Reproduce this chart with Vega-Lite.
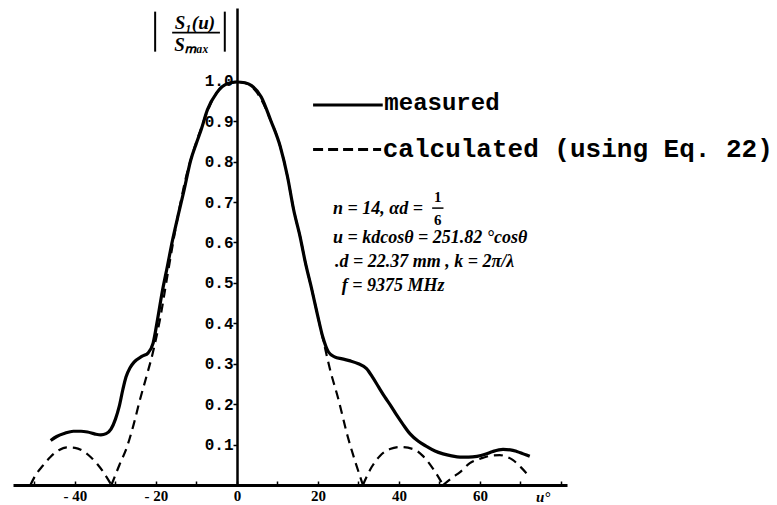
{
  "$schema": "https://vega.github.io/schema/vega-lite/v6.json",
  "width": 554,
  "height": 477,
  "autosize": {"type": "none"},
  "padding": {"left": 13, "top": 8, "right": 210, "bottom": 20},
  "background": "white",
  "config": {
    "view": {"stroke": null},
    "axis": {"grid": false, "domainColor": "black", "tickColor": "black", "labelColor": "black", "title": null}
  },
  "datasets": {
    "measured": [
      {"u": -46.0, "v": 0.110}, {"u": -44.5, "v": 0.120}, {"u": -42.5, "v": 0.128}, {"u": -40.4, "v": 0.133},
      {"u": -38.5, "v": 0.133}, {"u": -36.9, "v": 0.131}, {"u": -35.0, "v": 0.126}, {"u": -33.6, "v": 0.124},
      {"u": -32.3, "v": 0.127}, {"u": -31.1, "v": 0.138}, {"u": -30.0, "v": 0.163}, {"u": -29.1, "v": 0.193},
      {"u": -28.2, "v": 0.235}, {"u": -27.4, "v": 0.267}, {"u": -26.4, "v": 0.290}, {"u": -25.4, "v": 0.304},
      {"u": -23.5, "v": 0.318}, {"u": -21.9, "v": 0.327}, {"u": -20.7, "v": 0.351}, {"u": -19.6, "v": 0.410},
      {"u": -18.5, "v": 0.475}, {"u": -17.2, "v": 0.540}, {"u": -15.9, "v": 0.606}, {"u": -14.5, "v": 0.668},
      {"u": -13.2, "v": 0.723}, {"u": -11.4, "v": 0.804}, {"u": -10.0, "v": 0.846}, {"u": -8.8, "v": 0.880},
      {"u": -7.3, "v": 0.928}, {"u": -5.0, "v": 0.970}, {"u": -2.3, "v": 0.993}, {"u": 0.0, "v": 0.997},
      {"u": 2.0, "v": 0.995}, {"u": 3.6, "v": 0.988}, {"u": 6.0, "v": 0.960}, {"u": 8.3, "v": 0.903},
      {"u": 10.7, "v": 0.837}, {"u": 12.5, "v": 0.762}, {"u": 14.0, "v": 0.681}, {"u": 15.6, "v": 0.614},
      {"u": 16.9, "v": 0.550}, {"u": 18.5, "v": 0.483}, {"u": 20.0, "v": 0.416}, {"u": 21.2, "v": 0.366},
      {"u": 22.6, "v": 0.329}, {"u": 24.1, "v": 0.317}, {"u": 26.0, "v": 0.312}, {"u": 28.0, "v": 0.307},
      {"u": 30.0, "v": 0.300}, {"u": 32.0, "v": 0.288}, {"u": 33.6, "v": 0.265}, {"u": 35.0, "v": 0.242},
      {"u": 36.5, "v": 0.218}, {"u": 38.0, "v": 0.196}, {"u": 39.5, "v": 0.172}, {"u": 41.0, "v": 0.150},
      {"u": 42.7, "v": 0.127}, {"u": 44.8, "v": 0.108}, {"u": 46.9, "v": 0.095}, {"u": 48.9, "v": 0.084},
      {"u": 50.9, "v": 0.077}, {"u": 53.0, "v": 0.072}, {"u": 55.1, "v": 0.069}, {"u": 57.2, "v": 0.069},
      {"u": 59.3, "v": 0.071}, {"u": 61.3, "v": 0.076}, {"u": 63.2, "v": 0.083}, {"u": 65.7, "v": 0.088},
      {"u": 67.5, "v": 0.087}, {"u": 69.1, "v": 0.083}, {"u": 70.7, "v": 0.077}, {"u": 72.3, "v": 0.071}
    ],
    "calculated": [
      {"seg": "A", "u": -51.0, "v": 0.0}, {"seg": "A", "u": -49.5, "v": 0.028}, {"seg": "A", "u": -48.0, "v": 0.047},
      {"seg": "A", "u": -46.0, "v": 0.070}, {"seg": "A", "u": -44.0, "v": 0.086}, {"seg": "A", "u": -42.0, "v": 0.093},
      {"seg": "A", "u": -40.0, "v": 0.092}, {"seg": "A", "u": -38.0, "v": 0.084}, {"seg": "A", "u": -36.0, "v": 0.068},
      {"seg": "A", "u": -34.5, "v": 0.052}, {"seg": "A", "u": -33.0, "v": 0.032}, {"seg": "A", "u": -31.0, "v": 0.0},
      {"seg": "B", "u": -31.0, "v": 0.0}, {"seg": "B", "u": -29.0, "v": 0.050}, {"seg": "B", "u": -27.2, "v": 0.093},
      {"seg": "B", "u": -25.5, "v": 0.150}, {"seg": "B", "u": -24.0, "v": 0.209}, {"seg": "B", "u": -22.3, "v": 0.270},
      {"seg": "B", "u": -20.7, "v": 0.330}, {"seg": "B", "u": -19.0, "v": 0.410}, {"seg": "B", "u": -17.0, "v": 0.528},
      {"seg": "B", "u": -15.5, "v": 0.615}, {"seg": "B", "u": -14.0, "v": 0.695}, {"seg": "B", "u": -12.5, "v": 0.765},
      {"seg": "B", "u": -11.0, "v": 0.818}, {"seg": "B", "u": -9.0, "v": 0.878}, {"seg": "B", "u": -7.0, "v": 0.932},
      {"seg": "B", "u": -5.0, "v": 0.970}, {"seg": "B", "u": -2.5, "v": 0.993}, {"seg": "B", "u": 0.0, "v": 0.997},
      {"seg": "B", "u": 2.5, "v": 0.993}, {"seg": "B", "u": 5.0, "v": 0.970}, {"seg": "B", "u": 8.3, "v": 0.903},
      {"seg": "B", "u": 10.7, "v": 0.837}, {"seg": "B", "u": 12.5, "v": 0.762}, {"seg": "B", "u": 14.0, "v": 0.681},
      {"seg": "B", "u": 15.6, "v": 0.614}, {"seg": "B", "u": 16.9, "v": 0.550}, {"seg": "B", "u": 18.5, "v": 0.483},
      {"seg": "B", "u": 20.0, "v": 0.416}, {"seg": "B", "u": 21.5, "v": 0.350}, {"seg": "B", "u": 23.0, "v": 0.285},
      {"seg": "B", "u": 25.0, "v": 0.214}, {"seg": "B", "u": 27.4, "v": 0.118}, {"seg": "B", "u": 29.3, "v": 0.055},
      {"seg": "B", "u": 31.1, "v": 0.0},
      {"seg": "C", "u": 31.1, "v": 0.0}, {"seg": "C", "u": 33.3, "v": 0.045}, {"seg": "C", "u": 35.3, "v": 0.072},
      {"seg": "C", "u": 37.8, "v": 0.089}, {"seg": "C", "u": 40.2, "v": 0.094}, {"seg": "C", "u": 43.5, "v": 0.089},
      {"seg": "C", "u": 45.9, "v": 0.072}, {"seg": "C", "u": 48.1, "v": 0.045}, {"seg": "C", "u": 50.9, "v": 0.0},
      {"seg": "D", "u": 50.9, "v": 0.0}, {"seg": "D", "u": 53.0, "v": 0.017}, {"seg": "D", "u": 55.1, "v": 0.032},
      {"seg": "D", "u": 57.5, "v": 0.054}, {"seg": "D", "u": 60.7, "v": 0.067}, {"seg": "D", "u": 63.0, "v": 0.073},
      {"seg": "D", "u": 64.9, "v": 0.074}, {"seg": "D", "u": 66.5, "v": 0.070}, {"seg": "D", "u": 68.1, "v": 0.062},
      {"seg": "D", "u": 70.2, "v": 0.043}, {"seg": "D", "u": 72.3, "v": 0.020}
    ]
  },
  "encoding": {
    "x": {"field": "u", "type": "quantitative"},
    "y": {"field": "v", "type": "quantitative"}
  },
  "layer": [
    {
      "data": {"name": "measured"},
      "mark": {"type": "line", "interpolate": "monotone", "color": "black", "strokeWidth": 3.2},
      "encoding": {
        "x": {"field": "u", "type": "quantitative",
          "scale": {"domain": [-55.3, 81.5], "nice": false, "zero": false},
          "axis": {"values": [-50, -40, -30, -20, -10, 0, 10, 20, 30, 40, 50, 60, 70, 80],
            "labelExpr": "(datum.value % 20 == 0 && datum.value >= -40 && datum.value <= 60) ? (datum.value < 0 ? '- ' + abs(datum.value) : '' + datum.value) : ''",
            "domainWidth": 2.8, "tickSize": -4, "tickWidth": 1.5, "labelFont": "Liberation Serif", "labelFontWeight": "bold",
            "labelFontSize": 15, "labelPadding": 7, "labelFlush": false}},
        "y": {"field": "v", "type": "quantitative",
          "scale": {"domain": [0, 1.18], "nice": false},
          "axis": {"orient": "left", "offset": -224, "values": [0.1, 0.2, 0.3, 0.4, 0.5, 0.6, 0.7, 0.8, 0.9, 1.0],
            "format": ".1f", "domainWidth": 2.5, "tickSize": 4, "tickWidth": 1.5, "labelFont": "Liberation Mono",
            "labelFontWeight": "bold", "labelFontSize": 16, "labelPadding": 0}}
      }
    },
    {
      "data": {"name": "calculated"},
      "mark": {"type": "line", "interpolate": "monotone", "color": "black", "strokeWidth": 2.2, "strokeDash": [9, 6]},
      "encoding": {"detail": {"field": "seg"}}
    },
    {
      "data": {"values": [{"u": 18.8, "u2": 36.0, "v": 0.94}]},
      "mark": {"type": "rule", "color": "black", "strokeWidth": 3.2},
      "encoding": {"x2": {"field": "u2"}}
    },
    {
      "data": {"values": [{"u": 18.8, "u2": 35.6, "v": 0.83}]},
      "mark": {"type": "rule", "color": "black", "strokeWidth": 3.2, "strokeDash": [10, 5]},
      "encoding": {"x2": {"field": "u2"}}
    },
    {
      "data": {"values": [{"u": 36.4, "v": 0.945, "label": "measured"}]},
      "mark": {"type": "text", "align": "left", "baseline": "middle", "font": "Liberation Mono", "fontWeight": "bold", "fontSize": 24, "color": "black"},
      "encoding": {"text": {"field": "label"}}
    },
    {
      "data": {"values": [{"u": 36.0, "v": 0.83, "label": "calculated (using Eq. 22)"}]},
      "mark": {"type": "text", "align": "left", "baseline": "middle", "font": "Liberation Mono", "fontWeight": "bold", "fontSize": 26, "color": "black"},
      "encoding": {"text": {"field": "label"}}
    },
    {
      "data": {"values": [
        {"u": 23.7, "v": 0.683, "label": "n = 14, αd ="},
        {"u": 23.7, "v": 0.612, "label": "u = kdcosθ = 251.82 °cosθ"},
        {"u": 24.2, "v": 0.552, "label": ".d = 22.37 mm , k = 2π/λ"},
        {"u": 25.9, "v": 0.492, "label": "f = 9375 MHz"}
      ]},
      "mark": {"type": "text", "align": "left", "baseline": "middle", "font": "Liberation Serif", "fontWeight": "bold", "fontStyle": "italic", "fontSize": 18, "color": "black"},
      "encoding": {"text": {"field": "label"}}
    },
    {
      "data": {"values": [
        {"u": 49.6, "v": 0.713, "label": "1"},
        {"u": 49.6, "v": 0.656, "label": "6"}
      ]},
      "mark": {"type": "text", "align": "center", "baseline": "middle", "font": "Liberation Serif", "fontWeight": "bold", "fontSize": 15, "color": "black"},
      "encoding": {"text": {"field": "label"}}
    },
    {
      "data": {"values": [{"u": 48.2, "u2": 51.0, "v": 0.685}]},
      "mark": {"type": "rule", "color": "black", "strokeWidth": 1.5},
      "encoding": {"x2": {"field": "u2"}}
    },
    {
      "data": {"values": [
        {"u": -10.4, "v": 1.144, "label": "S₁(u)"},
        {"u": -11.2, "v": 1.089, "label": "Sₘₐₓ"}
      ]},
      "mark": {"type": "text", "align": "center", "baseline": "middle", "font": "Liberation Serif", "fontWeight": "bold", "fontStyle": "italic", "fontSize": 19, "color": "black"},
      "encoding": {"text": {"field": "label"}}
    },
    {
      "data": {"values": [{"u": -16.0, "u2": -4.2, "v": 1.119}]},
      "mark": {"type": "rule", "color": "black", "strokeWidth": 1.8},
      "encoding": {"x2": {"field": "u2"}}
    },
    {
      "data": {"values": [
        {"u": -20.2, "v": 1.072, "v2": 1.171},
        {"u": -3.0, "v": 1.072, "v2": 1.171}
      ]},
      "mark": {"type": "rule", "color": "black", "strokeWidth": 2},
      "encoding": {"y2": {"field": "v2"}}
    },
    {
      "data": {"values": [{"u": 75.6, "v": -0.03, "label": "u°"}]},
      "mark": {"type": "text", "align": "center", "baseline": "middle", "font": "Liberation Serif", "fontWeight": "bold", "fontStyle": "italic", "fontSize": 15, "color": "black"},
      "encoding": {"text": {"field": "label"}}
    }
  ]
}
